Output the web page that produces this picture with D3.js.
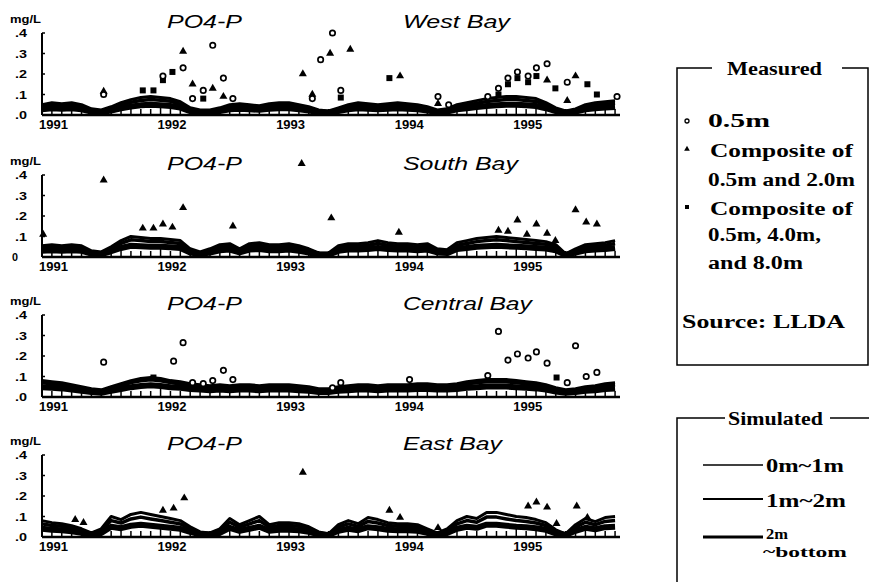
<!DOCTYPE html>
<html><head><meta charset="utf-8">
<script src="https://cdn.jsdelivr.net/npm/d3@7/dist/d3.min.js"></script>
<style>body{margin:0;background:#fff}svg{display:block}</style>
</head><body>
<svg id="c" width="869" height="582"></svg>
<script>
// ---------- DATA ----------
const bays = ["West Bay", "South Bay", "Central Bay", "East Bay"];
const yTickLabels = [".4", ".3", ".2", ".1", ".0"];
const yTickValues = [0.4, 0.3, 0.2, 0.1, 0.0];
const yearLabels = ["1991", "1992", "1993", "1994", "1995"];
const yearTicks = [1991, 1992, 1993, 1994, 1995];
// simulated series: monthly values, Jan 1991 (m0) .. Nov 1995 (m58)
const simStart = 1991, simStepMonths = 1;

const westTop = [0.05,0.06,0.055,0.06,0.05,0.03,0.025,0.04,0.06,0.075,
  0.085,0.09,0.085,0.08,0.065,0.035,0.025,0.025,0.035,0.05,
  0.055,0.05,0.045,0.055,0.06,0.06,0.05,0.04,0.025,0.02,
  0.035,0.05,0.06,0.055,0.05,0.055,0.06,0.055,0.05,0.04,
  0.025,0.03,0.05,0.06,0.07,0.08,0.085,0.09,0.09,0.085,
  0.08,0.06,0.035,0.02,0.03,0.05,0.06,0.065,0.07];
const westMid = [0.04,0.048,0.044,0.048,0.04,0.023,0.02,0.03,0.048,0.062,
  0.071,0.076,0.072,0.067,0.053,0.028,0.02,0.02,0.028,0.04,
  0.044,0.04,0.036,0.044,0.048,0.048,0.04,0.032,0.02,0.016,
  0.028,0.04,0.048,0.044,0.04,0.044,0.048,0.044,0.04,0.032,
  0.02,0.024,0.04,0.048,0.057,0.066,0.071,0.076,0.076,0.071,
  0.066,0.048,0.028,0.016,0.024,0.04,0.048,0.053,0.057];
const westBot = [0.028,0.033,0.03,0.033,0.028,0.017,0.014,0.022,0.033,0.041,
  0.047,0.05,0.047,0.044,0.036,0.019,0.014,0.014,0.019,0.028,
  0.03,0.028,0.025,0.03,0.033,0.033,0.028,0.022,0.014,0.011,
  0.019,0.028,0.033,0.03,0.028,0.03,0.033,0.03,0.028,0.022,
  0.014,0.017,0.028,0.033,0.039,0.044,0.047,0.05,0.05,0.047,
  0.044,0.033,0.019,0.011,0.017,0.028,0.033,0.036,0.039];

const southTop = [0.055,0.06,0.055,0.06,0.055,0.03,0.025,0.05,0.08,0.10,
  0.095,0.09,0.09,0.085,0.08,0.04,0.025,0.04,0.06,0.065,
  0.04,0.065,0.07,0.06,0.06,0.065,0.055,0.04,0.02,0.02,
  0.055,0.065,0.065,0.07,0.08,0.07,0.065,0.065,0.06,0.065,
  0.04,0.035,0.07,0.08,0.09,0.095,0.10,0.095,0.09,0.085,
  0.08,0.075,0.06,0.015,0.04,0.06,0.065,0.07,0.08];
const southMid = [0.044,0.048,0.044,0.048,0.044,0.024,0.02,0.04,0.066,0.084,
  0.08,0.076,0.076,0.071,0.066,0.032,0.02,0.032,0.048,0.053,
  0.032,0.053,0.057,0.048,0.048,0.053,0.044,0.032,0.016,0.016,
  0.044,0.053,0.053,0.057,0.066,0.057,0.053,0.053,0.048,0.053,
  0.032,0.028,0.057,0.066,0.075,0.08,0.084,0.08,0.075,0.071,
  0.066,0.062,0.048,0.012,0.032,0.048,0.053,0.057,0.066];
const southBot = [0.03,0.033,0.03,0.033,0.03,0.017,0.014,0.028,0.044,0.055,
  0.052,0.05,0.05,0.047,0.044,0.022,0.014,0.022,0.033,0.036,
  0.022,0.036,0.039,0.033,0.033,0.036,0.03,0.022,0.011,0.011,
  0.03,0.036,0.036,0.039,0.044,0.039,0.036,0.036,0.033,0.036,
  0.022,0.019,0.039,0.044,0.05,0.052,0.055,0.052,0.05,0.047,
  0.044,0.041,0.033,0.01,0.022,0.033,0.036,0.039,0.044];

const centralTop = [0.08,0.075,0.07,0.06,0.05,0.04,0.035,0.05,0.065,0.08,
  0.09,0.095,0.09,0.08,0.075,0.065,0.06,0.055,0.06,0.055,
  0.06,0.06,0.055,0.06,0.06,0.06,0.055,0.05,0.04,0.04,
  0.05,0.055,0.06,0.06,0.055,0.06,0.06,0.06,0.065,0.065,
  0.06,0.06,0.065,0.075,0.08,0.085,0.085,0.085,0.08,0.075,
  0.07,0.06,0.045,0.035,0.04,0.05,0.055,0.065,0.07];
const centralMid = [0.07,0.065,0.06,0.05,0.041,0.032,0.028,0.041,0.055,0.07,
  0.079,0.084,0.079,0.07,0.065,0.055,0.05,0.046,0.05,0.046,
  0.05,0.05,0.046,0.05,0.05,0.05,0.046,0.041,0.032,0.032,
  0.041,0.046,0.05,0.05,0.046,0.05,0.05,0.05,0.055,0.055,
  0.05,0.05,0.055,0.065,0.07,0.074,0.074,0.074,0.07,0.065,
  0.06,0.05,0.037,0.028,0.032,0.041,0.046,0.055,0.06];
const centralBot = [0.048,0.045,0.042,0.036,0.03,0.024,0.021,0.03,0.039,0.048,
  0.054,0.057,0.054,0.048,0.045,0.039,0.036,0.033,0.036,0.033,
  0.036,0.036,0.033,0.036,0.036,0.036,0.033,0.03,0.024,0.024,
  0.03,0.033,0.036,0.036,0.033,0.036,0.036,0.036,0.039,0.039,
  0.036,0.036,0.039,0.045,0.048,0.051,0.051,0.051,0.048,0.045,
  0.042,0.036,0.027,0.021,0.024,0.03,0.033,0.039,0.042];

const eastTop = [0.08,0.07,0.065,0.055,0.04,0.02,0.04,0.10,0.085,0.11,
  0.12,0.11,0.10,0.09,0.08,0.05,0.025,0.02,0.04,0.09,
  0.06,0.08,0.10,0.06,0.07,0.07,0.065,0.05,0.025,0.015,
  0.06,0.08,0.065,0.095,0.085,0.07,0.065,0.065,0.06,0.04,
  0.02,0.04,0.08,0.10,0.09,0.12,0.12,0.11,0.10,0.095,
  0.085,0.07,0.035,0.015,0.06,0.09,0.075,0.095,0.10];
const eastMid = [0.064,0.056,0.052,0.044,0.032,0.016,0.032,0.08,0.068,0.088,
  0.097,0.088,0.08,0.072,0.064,0.04,0.02,0.016,0.032,0.072,
  0.048,0.064,0.08,0.048,0.056,0.056,0.052,0.04,0.02,0.012,
  0.048,0.064,0.052,0.076,0.068,0.056,0.052,0.052,0.048,0.032,
  0.016,0.032,0.064,0.08,0.072,0.097,0.097,0.088,0.08,0.076,
  0.068,0.056,0.028,0.012,0.048,0.072,0.06,0.076,0.08];
const eastBot = [0.04,0.035,0.033,0.028,0.02,0.012,0.02,0.05,0.043,0.055,
  0.06,0.055,0.05,0.045,0.04,0.025,0.013,0.012,0.02,0.045,
  0.03,0.04,0.05,0.03,0.035,0.035,0.033,0.025,0.013,0.01,
  0.03,0.04,0.033,0.048,0.043,0.035,0.033,0.033,0.03,0.02,
  0.012,0.02,0.04,0.05,0.045,0.06,0.06,0.055,0.05,0.048,
  0.043,0.035,0.018,0.01,0.03,0.045,0.038,0.048,0.05];

// measured: [decimal year, mg/L]
const westSurface = [[1991.52,0.10],[1992.02,0.19],[1992.19,0.23],[1992.27,0.08],[1992.36,0.12],
  [1992.44,0.34],[1992.53,0.18],[1992.61,0.08],[1993.28,0.08],[1993.35,0.27],[1993.45,0.40],
  [1993.52,0.12],[1994.34,0.09],[1994.43,0.05],[1994.76,0.09],[1994.85,0.13],[1994.93,0.18],
  [1995.01,0.21],[1995.10,0.19],[1995.17,0.23],[1995.26,0.25],[1995.43,0.16],[1995.85,0.09]];
const westComp2 = [[1991.52,0.115],[1992.19,0.31],[1992.27,0.15],[1992.44,0.13],[1992.53,0.09],
  [1993.20,0.20],[1993.28,0.10],[1993.43,0.30],[1993.60,0.32],[1994.02,0.19],[1994.34,0.055],
  [1995.26,0.17],[1995.43,0.07],[1995.50,0.19]];
const westComp3 = [[1991.85,0.12],[1991.94,0.12],[1992.02,0.17],[1992.10,0.21],[1992.36,0.08],
  [1993.52,0.085],[1993.93,0.18],[1994.85,0.10],[1994.93,0.15],[1995.01,0.18],[1995.10,0.16],
  [1995.17,0.19],[1995.33,0.13],[1995.60,0.15],[1995.68,0.10]];
const southSurface = [];
const southComp2 = [[1991.01,0.11],[1991.52,0.375],[1991.85,0.14],[1991.94,0.14],[1992.02,0.16],
  [1992.10,0.145],[1992.19,0.24],[1992.61,0.15],[1993.19,0.455],[1993.44,0.19],[1994.01,0.12],
  [1994.85,0.13],[1994.93,0.125],[1995.01,0.18],[1995.09,0.11],[1995.17,0.16],[1995.26,0.115],
  [1995.33,0.08],[1995.50,0.23],[1995.59,0.17],[1995.68,0.16]];
const southComp3 = [];
const centralSurface = [[1991.52,0.17],[1992.11,0.175],[1992.19,0.265],[1992.27,0.07],[1992.36,0.065],
  [1992.44,0.08],[1992.53,0.13],[1992.61,0.085],[1993.45,0.045],[1993.52,0.07],[1994.10,0.085],
  [1994.76,0.105],[1994.85,0.32],[1994.93,0.18],[1995.01,0.21],[1995.10,0.19],[1995.17,0.22],
  [1995.26,0.165],[1995.43,0.07],[1995.50,0.25],[1995.59,0.10],[1995.68,0.12]];
const centralComp2 = [];
const centralComp3 = [[1991.94,0.095],[1995.34,0.095]];
const eastSurface = [];
const eastComp2 = [[1991.28,0.085],[1991.35,0.07],[1992.02,0.13],[1992.11,0.14],[1992.20,0.19],
  [1993.20,0.315],[1993.93,0.13],[1994.02,0.095],[1994.34,0.045],[1995.10,0.15],[1995.17,0.17],
  [1995.26,0.145],[1995.34,0.065],[1995.51,0.15],[1995.60,0.095]];
const eastComp3 = [];

const simSeries = [[westTop, westMid, westBot],[southTop, southMid, southBot],
                   [centralTop, centralMid, centralBot],[eastTop, eastMid, eastBot]];
const measSeries = [[westSurface, westComp2, westComp3],[southSurface, southComp2, southComp3],
                    [centralSurface, centralComp2, centralComp3],[eastSurface, eastComp2, eastComp3]];

const measuredLegend = [["0.5m"], ["Composite of", "0.5m and 2.0m"], ["Composite of", "0.5m, 4.0m,", "and 8.0m"]];
const simulatedLegend = ["0m~1m", "1m~2m", "2m"];

// ---------- HELPERS ----------
const svg = d3.select("#c");
svg.append("rect").attr("width",869).attr("height",582).attr("fill","#fff");
// place text at (x,y) and stretch its glyphs horizontally to width w
function fitText(parent, txt, xx, yy, w, font) {
  const t = parent.append("text").attr("x", 0).attr("y", 0).text(txt)
    .attr("font-family", font.family).attr("font-size", font.size)
    .attr("font-weight", font.weight || "normal").attr("font-style", font.style || "normal");
  const len = t.node().getComputedTextLength() || w;
  t.attr("transform", `translate(${xx},${yy}) scale(${w / len},1)`);
  return t;
}
const sansB = {family: "Liberation Sans, Arial, sans-serif", weight: "bold"};

// ---------- PANELS ----------
const x = d3.scaleLinear().domain([1991, 1995.875]).range([42, 620]);
const panelBase = [115, 257, 397, 537];
const zeroLabel = [".0", "0", ".0", ".0"];
const titleW = [107, 115, 129, 99];
const simWidths = [3, 3.5, 6];

bays.forEach((bay, i) => {
  const base = panelBase[i];
  const y = d3.scaleLinear().domain([0, 0.4]).range([base, base - 82]);
  const g = svg.append("g");

  fitText(g, "mg/L", 10, y(0.4) - 10, 31, {...sansB, size: 10});
  fitText(g, "PO4-P", 167, base - 87, 75, {family: "Liberation Sans, Arial, sans-serif", style: "italic", size: 18});
  fitText(g, bay, 403, base - 87, titleW[i], {family: "Liberation Sans, Arial, sans-serif", style: "italic", size: 18});

  // y axis
  g.append("line").attr("x1", x(1991)).attr("x2", x(1991)).attr("y1", y(0.4)).attr("y2", y(0))
    .attr("stroke","#000").attr("stroke-width",2);
  g.selectAll(".yt").data(yTickValues.filter(v => v > 0)).enter().append("line")
    .attr("x1", x(1991)).attr("x2", x(1991) + 3).attr("y1", d => y(d)).attr("y2", d => y(d))
    .attr("stroke","#000").attr("stroke-width",1.5);
  yTickValues.forEach((v, k) => {
    const lab = v === 0 ? zeroLabel[i] : yTickLabels[k];
    fitText(g, lab, (v === 0 && i === 1) ? 12 : 15, y(v) + 4, lab.length === 1 ? 6 : 12, {...sansB, size: 11});
  });

  // x axis baseline + monthly ticks
  g.append("line").attr("x1", x(1991)).attr("x2", x(1995.875)).attr("y1", y(0)).attr("y2", y(0))
    .attr("stroke","#000").attr("stroke-width",2.5);
  const months = d3.range(0, 59);
  g.selectAll(".mt").data(months).enter().append("line")
    .attr("x1", m => x(simStart + m / 12)).attr("x2", m => x(simStart + m / 12))
    .attr("y1", y(0)).attr("y2", m => y(0) - (m % 12 === 0 ? 9 : 6))
    .attr("stroke","#000").attr("stroke-width",1.5);
  yearTicks.forEach((d, k) => fitText(g, yearLabels[k], x(d) - 3, base + 14, 29, {...sansB, size: 12}));

  // simulated lines
  const line = d3.line().x((d, m) => x(simStart + m * simStepMonths / 12)).y(d => y(d));
  simSeries[i].forEach((s, k) => {
    g.append("path").attr("d", line(s)).attr("fill","none").attr("stroke","#000")
      .attr("stroke-width", simWidths[k]).attr("stroke-linejoin","round");
  });

  // measured
  const [surf, c2, c3] = measSeries[i];
  g.selectAll(".c3").data(c3).enter().append("rect")
    .attr("x", d => x(d[0]) - 3).attr("y", d => y(d[1]) - 3).attr("width",6).attr("height",6).attr("fill","#000");
  g.selectAll(".c2").data(c2).enter().append("path")
    .attr("d", d3.symbol(d3.symbolTriangle, 28))
    .attr("transform", d => `translate(${x(d[0])},${y(d[1])})`).attr("fill","#000");
  g.selectAll(".c1").data(surf).enter().append("circle")
    .attr("cx", d => x(d[0])).attr("cy", d => y(d[1])).attr("r", 2.7)
    .attr("fill","#fff").attr("stroke","#000").attr("stroke-width",1.7);
});

// ---------- LEGENDS ----------
const serifB = {family: "Liberation Serif, Times New Roman, serif", weight: "bold", size: 19};
const lt = (txt, xx, yy, w, f) => fitText(svg, txt, xx, yy, w, f || serifB);
// Measured box
svg.append("path").attr("d","M712,68 H677 V365 H868 V68 H842")
  .attr("fill","none").attr("stroke","#000").attr("stroke-width",1.5);
lt("Measured", 727, 75, 95);
svg.append("circle").attr("cx",687).attr("cy",121).attr("r",2).attr("fill","#fff").attr("stroke","#000").attr("stroke-width",1.3);
lt(measuredLegend[0][0], 708, 127, 62);
svg.append("path").attr("d", d3.symbol(d3.symbolTriangle, 14)).attr("transform","translate(687,149)").attr("fill","#000");
lt(measuredLegend[1][0], 710, 157, 143);
lt(measuredLegend[1][1], 708, 186, 147);
svg.append("rect").attr("x",685).attr("y",205).attr("width",4).attr("height",4).attr("fill","#000");
lt(measuredLegend[2][0], 710, 215, 143);
lt(measuredLegend[2][1], 708, 241, 113);
lt(measuredLegend[2][2], 708, 269, 95);
lt("Source: LLDA", 682, 328, 163);

// Simulated box
svg.append("path").attr("d","M725,418 H677 V582").attr("fill","none").attr("stroke","#000").attr("stroke-width",1.5);
svg.append("path").attr("d","M830,418 H869").attr("fill","none").attr("stroke","#000").attr("stroke-width",1.5);
lt("Simulated", 728, 425, 95);
const legY = [465, 499, 537];
const legW = [1.5, 2.2, 3];
legY.forEach((yy, k) => {
  svg.append("line").attr("x1",703).attr("x2",763).attr("y1",yy).attr("y2",yy)
    .attr("stroke","#000").attr("stroke-width",legW[k]);
});
lt(simulatedLegend[0], 766, 472, 78);
lt(simulatedLegend[1], 766, 507, 80);
lt(simulatedLegend[2], 766, 539, 22, {...serifB, size: 15});
lt("~bottom", 763, 557, 84, {...serifB, size: 15});
</script>
</body></html>
